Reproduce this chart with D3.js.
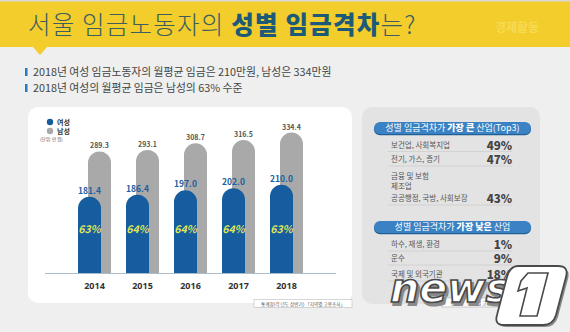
<!DOCTYPE html>
<html><head><meta charset="utf-8">
<script src="https://cdn.jsdelivr.net/npm/d3@7"></script>
<style>
html,body{margin:0;padding:0;background:#efefef;}
svg{display:block;font-family:"Noto Sans CJK KR","Noto Sans",sans-serif;}
</style></head>
<body><svg id="c" width="570" height="332"></svg>
<script>
const years = ["2014","2015","2016","2017","2018"];
const women = [181.4, 186.4, 197.0, 202.0, 210.0];
const men = [289.3, 293.1, 308.7, 316.5, 334.4];
const ratio = ["63%","64%","64%","64%","63%"];
const topIndustries = [["보건업, 사회복지업"],["전기, 가스, 증기"],["금융 및 보험","제조업","공공행정, 국방, 사회보장"]];
const topValues = ["49%","47%","43%"];
const lowIndustries = ["하수, 재생, 환경","운수","국제 및 외국기관"];
const lowValues = ["1%","9%","18%"];
const bullets = ["2018년 여성 임금노동자의 월평균 임금은 210만원, 남성은 334만원","2018년 여성의 월평균 임금은 남성의 63% 수준"];

const svg = d3.select("#c");
svg.append("rect").attr("width",570).attr("height",332).attr("fill","#efefef");
svg.append("rect").attr("x",0).attr("y",0).attr("width",570).attr("height",47).attr("fill","#f2cd2c");
svg.append("rect").attr("x",0).attr("y",0).attr("width",570).attr("height",1.5).attr("fill","#d9d9d9");
svg.append("path").attr("d","M33,47 L47,47 L40,55 Z").attr("fill","#f2cd2c");
const title = svg.append("text").attr("x",28).attr("y",34).attr("font-size",24.5).attr("font-weight",300)
  .attr("letter-spacing",1.2).attr("fill","#3d5e5c");
title.append("tspan").text("서울 임금노동자의 ");
title.append("tspan").attr("font-weight",900).attr("fill","#1d5a78").text("성별 임금격차");
title.append("tspan").text("는?");
svg.append("text").attr("x",517).attr("y",32).attr("text-anchor","middle").attr("font-size",12).attr("font-weight",700).attr("fill","#f7da55").text("경제활동");

bullets.forEach((b,i)=>{
  const y = 72 + i*16;
  svg.append("rect").attr("x",25).attr("y",y-4).attr("width",2.5).attr("height",8).attr("fill","#2a78c0");
  svg.append("text").attr("x",33).attr("y",y+4).attr("font-size",10.8).attr("fill","#444").text(b);
});

svg.append("rect").attr("x",28).attr("y",107).attr("width",324).attr("height",196).attr("rx",10).attr("fill","#ffffff");

svg.append("circle").attr("cx",50).attr("cy",122).attr("r",3.2).attr("fill","#155d9e");
svg.append("text").attr("x",57).attr("y",125).attr("font-size",7).attr("font-weight",700).attr("fill","#333").text("여성");
svg.append("circle").attr("cx",50).attr("cy",131).attr("r",3.2).attr("fill","#a9a9a9");
svg.append("text").attr("x",57).attr("y",134).attr("font-size",7).attr("font-weight",700).attr("fill","#333").text("남성");
svg.append("text").attr("x",40).attr("y",141).attr("font-size",4.5).attr("fill","#555").text("(단위: 만 원)");

const x = d3.scaleBand().domain(years).range([70.5,310.5]).padding(0);
const y = d3.scaleLinear().domain([0,350]).range([273,126]);
const bw = 23;

function roundTopBar(x0, yTop, w, yBase){
  const r = w/2;
  return `M${x0},${yBase} L${x0},${yTop+r} A${r},${r} 0 0 1 ${x0+w},${yTop+r} L${x0+w},${yBase} Z`;
}
const g = svg.append("g");
years.forEach((yr,i)=>{
  const c = x(yr) + x.bandwidth()/2;
  g.append("path").attr("d", roundTopBar(c-6.5, y(men[i]), bw, y(0))).attr("fill","#a9a9a9");
  g.append("path").attr("d", roundTopBar(c-16.5, y(women[i]), bw, y(0))).attr("fill","#155d9e");
  g.append("text").attr("x",c+5).attr("y",y(men[i])-3).attr("text-anchor","middle").attr("font-size",7).attr("font-weight",700).attr("fill","#555").text(men[i].toFixed(1));
  g.append("text").attr("x",c-5).attr("y",y(women[i])-3).attr("text-anchor","middle").attr("font-size",8.5).attr("font-weight",700).attr("fill","#1d5f9e").text(women[i].toFixed(1));
  g.append("text").attr("x",c-5).attr("y",233).attr("text-anchor","middle").attr("font-size",10.5).attr("font-weight",700).attr("font-style","italic").attr("fill","#dfe45a").text(ratio[i]);
});
const axis = svg.append("g").attr("transform",`translate(0,${y(0)})`).call(d3.axisBottom(x).tickSize(0).tickPadding(10));
axis.select(".domain").remove();
svg.append("line").attr("x1",45).attr("x2",336).attr("y1",y(0)+0.5).attr("y2",y(0)+0.5).attr("stroke","#a7bccc").attr("stroke-width",1.2);
axis.selectAll("text").attr("font-size",9).attr("font-weight",700).attr("fill","#333").attr("font-family","'Noto Sans',sans-serif");

svg.append("rect").attr("x",254).attr("y",299.5).attr("width",98).attr("height",8).attr("fill","#fff").attr("stroke","#bbb").attr("stroke-width",0.6);
svg.append("text").attr("x",303).attr("y",305.5).attr("text-anchor","middle").attr("font-size",4.6).attr("fill","#555").text("통계청(각 년도 상반기) 「지역별 고용조사」");

svg.append("rect").attr("x",362).attr("y",107).attr("width",178).attr("height",197).attr("rx",10).attr("fill","#e3e3e3");

function pill(yTop, parts){
  svg.append("rect").attr("x",374).attr("y",yTop+1.2).attr("width",157).attr("height",12).attr("rx",6).attr("fill","#215f94");
  svg.append("rect").attr("x",374).attr("y",yTop).attr("width",157).attr("height",12).attr("rx",6).attr("fill","#3b82c4");
  const t = svg.append("text").attr("x",452.5).attr("y",yTop+9.3).attr("text-anchor","middle").attr("font-size",9).attr("fill","#fff");
  parts.forEach(p=>t.append("tspan").attr("font-weight",p[1]?900:400).text(p[0]));
}
pill(122,[["성별 임금격차가 ",0],["가장 큰",1],[" 산업(Top3)",0]]);
pill(221,[["성별 임금격차가 ",0],["가장 낮은",1],[" 산업",0]]);

let ry = [145,159,[176,186,198]];
const sepTop = [151.5,166,205];
topIndustries.forEach((names,i)=>{
  const ys = Array.isArray(ry[i]) ? ry[i] : [ry[i]];
  names.forEach((n,j)=>{
    svg.append("text").attr("x",391).attr("y",ys[j]+3).attr("font-size",7.5).attr("fill","#555").text(n);
  });
  svg.append("text").attr("x",512).attr("y",ys[ys.length-1]+4.5).attr("text-anchor","end").attr("font-size",11.5).attr("font-weight",900).attr("fill","#444").text(topValues[i]);
  svg.append("line").attr("x1",388).attr("x2",512).attr("y1",sepTop[i]).attr("y2",sepTop[i]).attr("stroke","#c8c8c8").attr("stroke-width",0.6);
});
const lowY = [244,258,274];
const sepLow = [251,265,281];
lowIndustries.forEach((n,i)=>{
  svg.append("text").attr("x",391).attr("y",lowY[i]+3).attr("font-size",7.5).attr("fill","#555").text(n);
  svg.append("text").attr("x",512).attr("y",lowY[i]+4.5).attr("text-anchor","end").attr("font-size",11.5).attr("font-weight",900).attr("fill","#444").text(lowValues[i]);
  svg.append("line").attr("x1",388).attr("x2",512).attr("y1",sepLow[i]).attr("y2",sepLow[i]).attr("stroke","#c8c8c8").attr("stroke-width",0.6);
});
svg.append("rect").attr("x",442).attr("y",298).attr("width",70).attr("height",9).attr("fill","#fff").attr("stroke","#aaa").attr("stroke-width",0.6);
svg.append("text").attr("x",477).attr("y",304.5).attr("text-anchor","middle").attr("font-size",4.6).attr("fill","#555").text("통계청 「지역별 고용조사」");

// watermark
const wm = svg.append("g");
const newsAttrs = t => t.attr("font-size",40).attr("font-weight",900).attr("font-style","italic")
  .attr("font-family","'DejaVu Sans',sans-serif")
  .attr("textLength",120).attr("lengthAdjust","spacingAndGlyphs").text("news");
newsAttrs(wm.append("text").attr("x",392).attr("y",305)).attr("fill","#8a8a8a").attr("stroke","#8a8a8a").attr("stroke-width",2);
newsAttrs(wm.append("text").attr("x",390).attr("y",302)).attr("fill","#fff").attr("stroke","#4a4a4a").attr("stroke-width",1.6);
const boxD = "M518,266 L558,266 Q569,266 566,277 L556,315 Q553,325 543,325 L504,325 Q494,325 497,315 L507,277 Q510,266 518,266 Z";
wm.append("path").attr("d",boxD).attr("fill","#8a8a8a").attr("transform","translate(2,2)");
wm.append("path").attr("d",boxD).attr("fill","#fff").attr("stroke","#4a4a4a").attr("stroke-width",1.8);
wm.append("path").attr("d","M528,273 L548,273 L537,316 L520,316 L527,288 L518,291 L521,281 Z")
  .attr("fill","#fff").attr("stroke","#4a4a4a").attr("stroke-width",1.6);
</script></body></html>
